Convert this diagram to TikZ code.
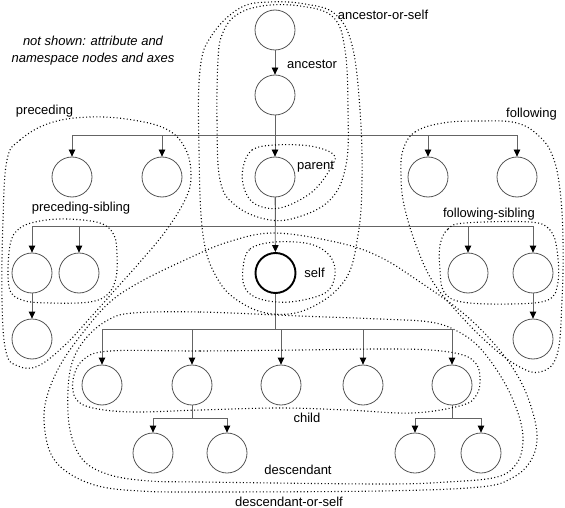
\documentclass[tikz,border=0pt]{standalone}
\usepackage{fontspec}
\setmainfont{Liberation Sans}
\usetikzlibrary{arrows.meta}
\definecolor{edgegray}{RGB}{100,100,100}
\definecolor{ringgray}{RGB}{85,85,85}
\tikzset{
  treenode/.style={circle, draw=ringgray, line width=0.8pt, minimum size=40pt, inner sep=0pt},
  selfnode/.style={treenode, draw=black, line width=1.9pt},
  edge/.style={draw=edgegray, line width=0.8pt},
  arrowedge/.style={edge, -{Triangle[width=6.5pt,length=7pt,color=black]}},
  axisline/.style={line width=1.1pt, dash pattern=on 1pt off 2.4pt},
  axislabel/.style={font=\fontsize{13}{15}\selectfont, inner sep=0pt},
}
\begin{document}
\begin{tikzpicture}[x=1pt,y=-1pt]
\useasboundingbox (0,0) rectangle (565,508);
{
% Drawing node root
\node[treenode] (root) at (275,30) {};%
% Drawing node ancestor
\node[treenode] (anc) at (275,95) {};%
% Drawing nodes of the ancestor's row
\node[treenode] (prec1) at (72,177) {};%
\node[treenode] (prec2) at (162,177) {};%
\node[treenode] (par) at (275,177) {};%
\node[treenode] (fol1) at (428,177) {};%
\node[treenode] (fol2) at (517,177) {};%
% Drawing nodes of the parent's row
\node[treenode] (psib1) at (32,273) {};%
\node[treenode] (psib2) at (79,273) {};%
\node[selfnode] (self) at (275.5,273) {};%
\node[treenode] (fsib1) at (468,273) {};%
\node[treenode] (fsib2) at (533,273) {};%
% Drawing nodes below the siblings
\node[treenode] (pdesc) at (32,339) {};%
\node[treenode] (fdesc) at (533,339) {};%
% Drawing child nodes
\node[treenode] (child1) at (102,385) {};%
\node[treenode] (child2) at (192,385) {};%
\node[treenode] (child3) at (281,385) {};%
\node[treenode] (child4) at (363,385) {};%
\node[treenode] (child5) at (452,385) {};%
% Drawing grandchild nodes
\node[treenode] (grand1) at (153,453) {};%
\node[treenode] (grand2) at (227,453) {};%
\node[treenode] (grand3) at (415,453) {};%
\node[treenode] (grand4) at (481,453) {};%

% Bus levels
\coordinate (busAnc) at (0,135.7);%
\coordinate (busPar) at (0,226.7);%
\coordinate (busSelf) at (0,329.5);%
\coordinate (busGrand) at (0,418);%

% Drawing edges root anc par self
\draw[arrowedge] (root) -- (anc);%
\draw[arrowedge] (anc) -- (par);%
\draw[arrowedge] (par) -- (self);%
% Drawing edges anc to its row
\draw[arrowedge] (anc) -- (anc |- busAnc) -| (prec1);%
\draw[arrowedge] (anc) -- (anc |- busAnc) -| (prec2);%
\draw[arrowedge] (anc) -- (anc |- busAnc) -| (fol1);%
\draw[arrowedge] (anc) -- (anc |- busAnc) -| (fol2);%
% Drawing edges par to its row
\draw[arrowedge] (par) -- (par |- busPar) -| (psib1);%
\draw[arrowedge] (par) -- (par |- busPar) -| (psib2);%
\draw[arrowedge] (par) -- (par |- busPar) -| (fsib1);%
\draw[arrowedge] (par) -- (par |- busPar) -| (fsib2);%
% Drawing edges below the siblings
\draw[arrowedge] (psib1) -- (pdesc);%
\draw[arrowedge] (fsib2) -- (fdesc);%
% Drawing edges self to children
\draw[arrowedge] (self) -- (self |- busSelf) -| (child1);%
\draw[arrowedge] (self) -- (self |- busSelf) -| (child2);%
\draw[arrowedge] (self) -- (self |- busSelf) -| (child3);%
\draw[arrowedge] (self) -- (self |- busSelf) -| (child4);%
\draw[arrowedge] (self) -- (self |- busSelf) -| (child5);%
% Drawing edges children to grandchildren
\draw[arrowedge] (child2) -- (child2 |- busGrand) -| (grand1);%
\draw[arrowedge] (child2) -- (child2 |- busGrand) -| (grand2);%
\draw[arrowedge] (child5) -- (child5 |- busGrand) -| (grand3);%
\draw[arrowedge] (child5) -- (child5 |- busGrand) -| (grand4);%

% Drawing axis ancestor-or-self
\draw[axisline] plot[smooth cycle, tension=0.65] coordinates {(200,70) (212,35) (240,8) (270,2) (305,4) (335,14) (352,45) (360,110) (362,180) (358,235) (345,280) (310,308) (273,314) (240,302) (217,278) (203,235) (199,150)};%
% Drawing axis ancestor
\draw[axisline] plot[smooth cycle, tension=0.65] coordinates {(218,60) (217,120) (220,180) (235,205) (265,219) (295,218) (330,200) (346,165) (348,110) (345,50) (333,17) (300,6) (262,6) (235,16) (222,35)};%
% Drawing axis parent
\draw[axisline] plot[smooth cycle, tension=0.6] coordinates {(243,168) (252,150) (275,145) (310,146) (333,154) (332,166) (312,192) (280,208) (255,204) (244,188)};%
% Drawing axis self
\draw[axisline] plot[smooth cycle, tension=0.6] coordinates {(243,268) (250,249) (275,242) (310,244) (330,256) (335,275) (325,293) (290,302) (260,299) (245,288)};%
% Drawing axis preceding
\draw[axisline] plot[smooth cycle, tension=0.65] coordinates {(7,160) (20,140) (50,123) (90,117) (133,120) (168,130) (186,150) (191,177) (185,200) (165,232) (140,262) (115,290) (90,318) (65,345) (38,366) (18,366) (6,352) (2,300) (3,220)};%
% Drawing axis preceding-sibling
\draw[axisline] plot[smooth cycle, tension=0.6] coordinates {(10,245) (20,228) (40,221) (67,219) (100,223) (114,235) (117,255) (116,278) (108,294) (90,302) (50,303) (22,300) (9,287)};%
% Drawing axis following
\draw[axisline] plot[smooth cycle, tension=0.65] coordinates {(403,150) (415,132) (443,123) (480,121) (517,123) (540,137) (553,157) (560,190) (563,240) (562,300) (557,355) (540,372) (518,366) (490,345) (460,315) (433,282) (416,245) (404,205) (401,175)};%
% Drawing axis following-sibling
\draw[axisline] plot[smooth cycle, tension=0.6] coordinates {(440,245) (448,229) (465,223) (530,222) (550,230) (557,250) (558,282) (548,300) (510,304) (462,302) (444,292) (440,270)};%
% Drawing axis descendant-or-self
\draw[axisline] plot[smooth cycle, tension=0.6] coordinates {(275,233) (340,243) (380,257) (417,280) (463,313) (497,347) (520,380) (533,413) (537,440) (530,462) (512,478) (480,487) (380,491) (200,492) (140,491) (98,486) (67,472) (50,452) (44,420) (48,393) (62,362) (85,330) (110,302) (140,282) (185,260) (228,242)};%
% Drawing axis descendant
\draw[axisline] plot[smooth cycle, tension=0.6] coordinates {(133,313) (200,312) (300,316) (380,319) (430,322) (457,331) (480,348) (503,380) (518,413) (523,440) (517,463) (497,477) (447,482) (380,484) (200,482) (150,481) (110,475) (83,460) (70,430) (68,390) (73,360) (87,337) (108,320)};%
% Drawing axis child
\draw[axisline] plot[smooth cycle, tension=0.6] coordinates {(110,351) (200,351) (300,350) (380,349) (430,350) (463,355) (477,365) (480,380) (477,394) (463,405) (413,413) (347,410) (280,408) (200,410) (133,412) (93,408) (76,399) (73,380) (83,360)};%

% Marking axis labels
\node[axislabel] (lblAncSelf) at (383,15) {ancestor-or-self};%
\node[axislabel] (lblAnc) at (312,64) {ancestor};%
\node[axislabel] (lblPar) at (315.5,167) {parent};%
\node[axislabel] (lblSelf) at (314.5,273) {self};%
\node[axislabel] (lblPrec) at (44.5,111) {preceding};%
\node[axislabel] (lblPrecSib) at (81,208) {preceding-sibling};%
\node[axislabel] (lblFol) at (531.5,114) {following};%
\node[axislabel] (lblFolSib) at (489,214) {following-sibling};%
\node[axislabel] (lblChild) at (307,418) {child};%
\node[axislabel] (lblDesc) at (298,470) {descendant};%
\node[axislabel] (lblDescSelf) at (289,502) {descendant-or-self};%
% Marking note
\node[axislabel, font=\fontsize{13}{17}\selectfont\itshape, align=center] (note) at (93,51) {not shown: attribute and\\namespace nodes and axes};%
}
\end{tikzpicture}
\end{document}
